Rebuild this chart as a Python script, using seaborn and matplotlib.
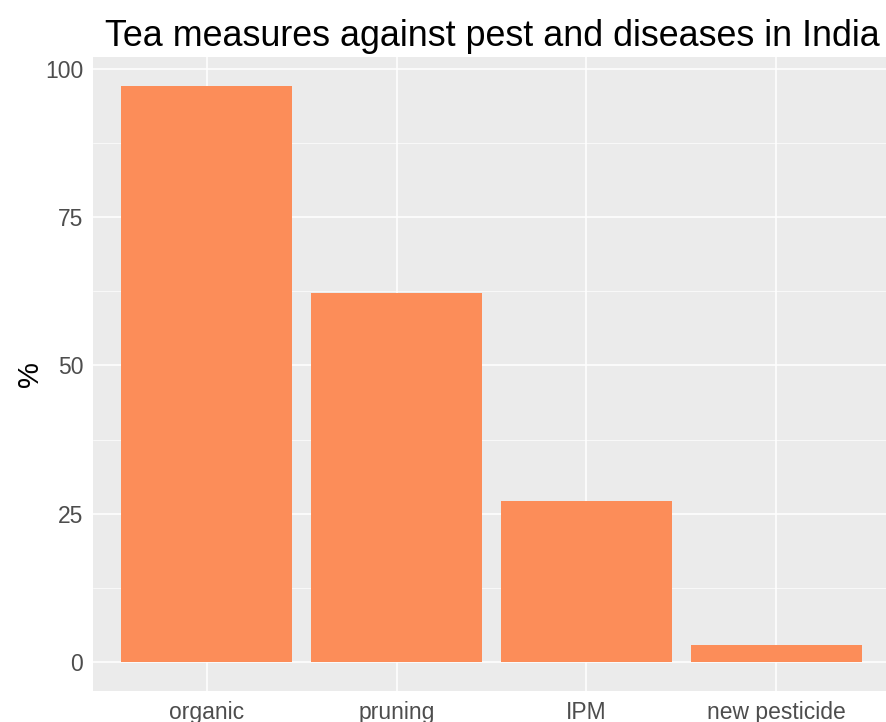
import matplotlib
matplotlib.use("Agg")
import matplotlib.pyplot as plt
import seaborn as sns
import pandas as pd
from matplotlib.ticker import MultipleLocator

# values
measures = ["organic", "pruning", "IPM", "new pesticide"]
percent = [97.1, 62.2, 27.1, 2.9]

df = pd.DataFrame({"measure": measures, "percent": percent})

sns.set_style("darkgrid", {"axes.facecolor": "#EBEBEB", "grid.color": "white"})
plt.rcParams["font.family"] = ["Liberation Sans", "DejaVu Sans"]

fig = plt.figure(figsize=(8.86, 7.22), dpi=100)
ax = fig.add_axes([93 / 886, 31 / 722, 797 / 886, 634 / 722])

sns.barplot(data=df, x="measure", y="percent", color="#FC8D59", saturation=1,
            width=0.9, ax=ax, zorder=3, edgecolor="none", linewidth=0)

ax.set_xlim(-0.6, 3.6)
ymax = max(percent)
ax.set_ylim(-0.05 * ymax, ymax * 1.05)
ax.yaxis.set_major_locator(MultipleLocator(25))
ax.yaxis.set_minor_locator(MultipleLocator(12.5))
ax.grid(which="major", color="white", linewidth=1.1, zorder=0)
ax.grid(which="minor", axis="y", color="white", linewidth=0.5, zorder=0)
ax.set_axisbelow(True)

for s in ax.spines.values():
    s.set_visible(False)

ax.tick_params(axis="both", which="major", length=4, width=1, color="#333333",
               labelsize=16.5, labelcolor="#4D4D4D", pad=3, direction="out")
ax.tick_params(axis="both", which="minor", length=0)

ax.set_xlabel("")
ax.set_ylabel("%", fontsize=21, color="black", labelpad=1)
ax.set_title("Tea measures against pest and diseases in India", fontsize=25.8,
             color="black", loc="left", pad=8, x=0.015)

fig.savefig("out.png", dpi=100)
